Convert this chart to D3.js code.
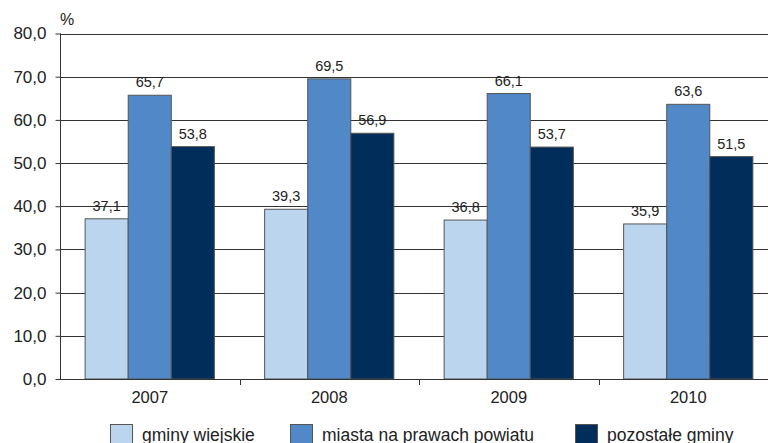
<!DOCTYPE html>
<html><head><meta charset="utf-8">
<script src="https://cdn.jsdelivr.net/npm/d3@7"></script>
<style>body{margin:0;background:#fff}svg{display:block}text{font-family:"Liberation Sans",Arial,sans-serif;fill:#222}</style>
</head><body><svg id="c" width="768" height="443"></svg>
<script>
const years = ["2007","2008","2009","2010"];
const seriesNames = ["gminy wiejskie","miasta na prawach powiatu","pozostałe gminy"];
const gminyWiejskie = [37.1,39.3,36.8,35.9];
const miastaNaPrawach = [65.7,69.5,66.1,63.6];
const pozostaleGminy = [53.8,56.9,53.7,51.5];
const yTicks = [0,10,20,30,40,50,60,70,80];
const colors = ["#bcd5ee","#5088c8","#002d5a"];

(function(){
const series = [gminyWiejskie, miastaNaPrawach, pozostaleGminy];
const svg = d3.select("#c");
const mLeft = 60, mRight = 778, mTop = 33.5, mBottom = 379;
const x = d3.scaleBand().domain(years).range([mLeft,mRight]);
const y = d3.scaleLinear().domain([0,80]).range([mBottom,mTop]);
const barW = x.bandwidth()*0.24;
const fmt = v => d3.format(".1f")(v).replace(".",",");

svg.append("g").selectAll("line").data(yTicks.filter(d=>d>0)).join("line")
  .attr("x1",mLeft).attr("x2",768).attr("y1",d=>Math.round(y(d))+0.5).attr("y2",d=>Math.round(y(d))+0.5)
  .attr("stroke","#333").attr("stroke-width",1);

const ya = svg.append("g").attr("transform",`translate(${mLeft+0.5},0)`)
  .call(d3.axisLeft(y).tickValues(yTicks).tickSize(5).tickPadding(9).tickFormat(fmt));
ya.select(".domain").attr("stroke","#333").attr("d",`M0,${y(80)}V${y(0)}`);
ya.selectAll(".tick line").attr("stroke","#333");
ya.selectAll(".tick text").attr("font-size",17).attr("fill","#222").attr("font-family","Liberation Sans, Arial, sans-serif");

series.forEach((vals,si)=>{
  svg.append("g").selectAll("rect").data(vals).join("rect")
    .attr("x",(d,i)=>x(years[i])+x.bandwidth()/2+(si-1.5)*barW)
    .attr("y",d=>y(d)).attr("width",barW).attr("height",d=>y(0)-y(d))
    .attr("fill",colors[si]).attr("stroke","#555").attr("stroke-width",1);
  svg.append("g").selectAll("text").data(vals).join("text")
    .attr("x",(d,i)=>x(years[i])+x.bandwidth()/2+(si-1)*barW)
    .attr("y",d=>y(d)-8).attr("text-anchor","middle").attr("font-size",14.5)
    .text(fmt);
});

const xa = svg.append("g").attr("transform",`translate(0,${mBottom+0.5})`)
  .call(d3.axisBottom(x).tickSize(0).tickPadding(12));
xa.select(".domain").attr("stroke","#333").attr("d",`M${mLeft},0H768`);
xa.selectAll(".tick text").attr("font-size",16.5).attr("fill","#222").attr("font-family","Liberation Sans, Arial, sans-serif");
svg.append("g").selectAll("line").data(years.slice(1)).join("line")
  .attr("x1",d=>Math.round(x(d))+0.5).attr("x2",d=>Math.round(x(d))+0.5)
  .attr("y1",mBottom).attr("y2",mBottom+6).attr("stroke","#333");

svg.append("text").attr("x",60).attr("y",25).attr("font-size",16).text("%");

const legX = [110,290,575];
seriesNames.forEach((n,i)=>{
  svg.append("rect").attr("x",legX[i]+0.5).attr("y",424.5).attr("width",22).attr("height",22)
    .attr("fill",colors[i]).attr("stroke","#555");
  svg.append("text").attr("x",legX[i]+32).attr("y",441).attr("font-size",17.5).text(n);
});
})();
</script></body></html>
